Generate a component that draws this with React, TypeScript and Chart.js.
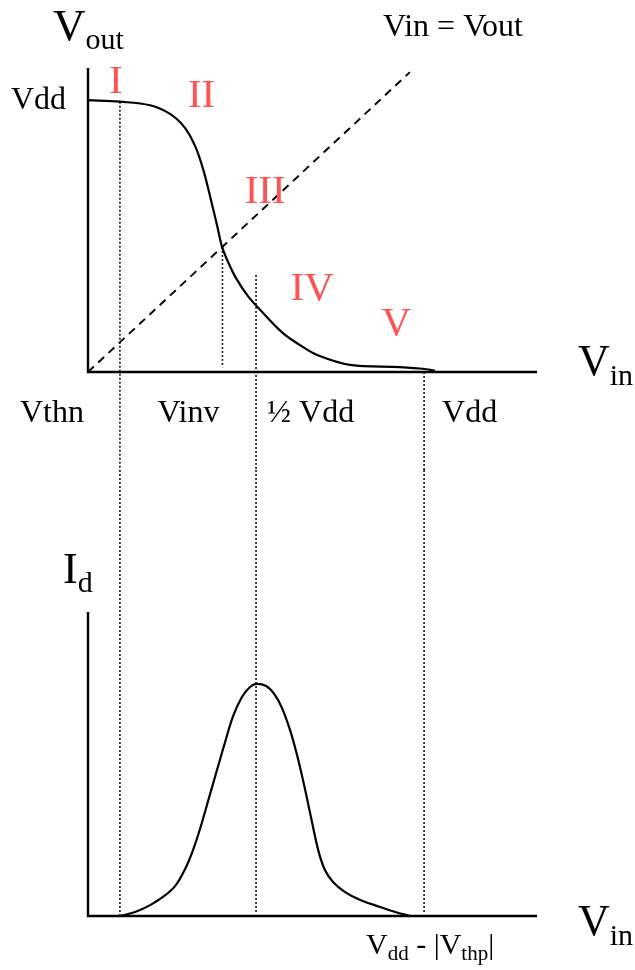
import React, { useEffect, useRef } from 'react';
import { Chart, registerables } from 'chart.js';

Chart.register(...registerables);

// Inverter voltage transfer characteristic (Vdd normalised to 1)
const vinTransfer = [0, 0.095, 0.185, 0.244, 0.289, 0.321, 0.345, 0.366, 0.384, 0.399, 0.417, 0.44, 0.476, 0.521, 0.58, 0.631, 0.682, 0.78, 0.929, 1.003, 1.033];
const voutTransfer = [1.0, 0.994, 0.981, 0.949, 0.897, 0.824, 0.735, 0.632, 0.54, 0.46, 0.404, 0.346, 0.279, 0.217, 0.143, 0.099, 0.0625, 0.026, 0.018, 0.011, 0.004];

// Vin = Vout reference line
const unityVin = [0, 0.958];
const unityVout = [0, 1.103];

// Drain current through the inverter (peak normalised to 1)
const vinCurrent = [0.095, 0.14, 0.185, 0.223, 0.259, 0.289, 0.3125, 0.336, 0.36, 0.384, 0.408, 0.432, 0.458, 0.482, 0.5, 0.53, 0.554, 0.577, 0.601, 0.622, 0.643, 0.664, 0.685, 0.705, 0.729, 0.765, 0.81, 0.869, 0.914, 0.958];
const idCurrent = [0, 0.017, 0.047, 0.082, 0.129, 0.203, 0.284, 0.388, 0.509, 0.63, 0.75, 0.862, 0.944, 0.987, 1.0, 0.991, 0.957, 0.897, 0.802, 0.694, 0.565, 0.422, 0.284, 0.198, 0.147, 0.103, 0.069, 0.039, 0.017, 0];

// Key input voltages
const VTHN = 0.095;
const VINV = 0.4;
const VDD = 1.0;
const xTickValues = [VTHN, VINV, VDD / 2, VDD];
const xTickLabels = ['Vthn', 'Vinv', '½ Vdd', 'Vdd'];

// Operating regions
const regionNames = ['I', 'II', 'III', 'IV', 'V'];
const regionVin = [0.083, 0.338, 0.527, 0.667, 0.917];
const regionVout = [1.026, 0.974, 0.621, 0.265, 0.136];

const X_MAX = 1.336;
const TOP_Y_MAX = 1.118;
const BOTTOM_Y_MAX = 1.31;

const SERIF = "'Liberation Serif', 'Times New Roman', Times, serif";
const RED = '#ff5252';

type Part = { text: string; size: number; dy?: number };

function drawParts(ctx: CanvasRenderingContext2D, x: number, y: number, parts: Part[], color = '#000') {
  let cx = x;
  ctx.save();
  ctx.fillStyle = color;
  ctx.textAlign = 'left';
  ctx.textBaseline = 'alphabetic';
  for (const p of parts) {
    ctx.font = `${p.size}px ${SERIF}`;
    ctx.fillText(p.text, cx, y + (p.dy || 0));
    cx += ctx.measureText(p.text).width;
  }
  ctx.restore();
}

function dotted(ctx: CanvasRenderingContext2D, x: number, y1: number, y2: number) {
  ctx.save();
  ctx.strokeStyle = '#111';
  ctx.lineWidth = 1.6;
  ctx.setLineDash([2, 2]);
  ctx.beginPath();
  ctx.moveTo(x, y1);
  ctx.lineTo(x, y2);
  ctx.stroke();
  ctx.restore();
}

function axes(ctx: CanvasRenderingContext2D, area: { left: number; right: number; top: number; bottom: number }) {
  ctx.save();
  ctx.strokeStyle = '#000';
  ctx.lineWidth = 2.4;
  ctx.beginPath();
  ctx.moveTo(area.left, area.top);
  ctx.lineTo(area.left, area.bottom);
  ctx.lineTo(area.right, area.bottom);
  ctx.stroke();
  ctx.restore();
}

const transferDecor = {
  id: 'transferDecor',
  beforeDatasetsDraw(chart: any) {
    const { ctx, chartArea, scales } = chart;
    const x = scales.x;
    const y = scales.y;
    const h = chart.height;
    // guides dropping from the curve / region boundaries
    dotted(ctx, x.getPixelForValue(VTHN), y.getPixelForValue(0.994), h);
    dotted(ctx, x.getPixelForValue(VINV), y.getPixelForValue(0.46), y.getPixelForValue(0.018));
    dotted(ctx, x.getPixelForValue(VDD / 2), y.getPixelForValue(0.357), h);
    dotted(ctx, x.getPixelForValue(VDD), y.getPixelForValue(0), h);
    axes(ctx, chartArea);
  },
  afterDraw(chart: any) {
    const { ctx, chartArea, scales } = chart;
    const x = scales.x;
    const y = scales.y;
    // axis titles
    drawParts(ctx, chartArea.left - 35, chartArea.top - 28, [
      { text: 'V', size: 45 },
      { text: 'out', size: 30, dy: 9 },
    ]);
    drawParts(ctx, chartArea.right + 41, chartArea.bottom + 3, [
      { text: 'V', size: 44 },
      { text: 'in', size: 30, dy: 10 },
    ]);
    drawParts(ctx, 383, 36, [{ text: 'Vin = Vout', size: 32 }]);
    // Vdd level on the output axis
    ctx.save();
    ctx.font = `32px ${SERIF}`;
    ctx.textAlign = 'right';
    ctx.textBaseline = 'alphabetic';
    ctx.fillStyle = '#000';
    ctx.fillText('Vdd', chartArea.left - 22, y.getPixelForValue(VDD) + 9);
    // input voltage labels
    const labelY = chartArea.bottom + 50;
    const anchors: [CanvasTextAlign, number][] = [
      ['center', -68],
      ['center', -34],
      ['left', 11],
      ['left', 18],
    ];
    xTickLabels.forEach((t, i) => {
      const [align, off] = anchors[i];
      ctx.textAlign = align;
      ctx.fillText(t, x.getPixelForValue(xTickValues[i]) + off, labelY);
    });
    // region numerals
    ctx.fillStyle = RED;
    ctx.font = `41px ${SERIF}`;
    ctx.textAlign = 'center';
    regionNames.forEach((r, i) => {
      ctx.fillText(r, x.getPixelForValue(regionVin[i]), y.getPixelForValue(regionVout[i]));
    });
    ctx.restore();
  },
};

const currentDecor = {
  id: 'currentDecor',
  beforeDatasetsDraw(chart: any) {
    const { ctx, chartArea, scales } = chart;
    const x = scales.x;
    const y = scales.y;
    dotted(ctx, x.getPixelForValue(VTHN), 0, y.getPixelForValue(0));
    dotted(ctx, x.getPixelForValue(VDD / 2), 0, y.getPixelForValue(0) - 2);
    dotted(ctx, x.getPixelForValue(VDD), 0, y.getPixelForValue(0) - 2);
    axes(ctx, chartArea);
  },
  afterDraw(chart: any) {
    const { ctx, chartArea } = chart;
    drawParts(ctx, chartArea.left - 25, chartArea.top - 29, [
      { text: 'I', size: 44 },
      { text: 'd', size: 30, dy: 9 },
    ]);
    drawParts(ctx, chartArea.right + 41, chartArea.bottom + 19, [
      { text: 'V', size: 44 },
      { text: 'in', size: 30, dy: 10 },
    ]);
    drawParts(ctx, 366, chartArea.bottom + 38, [
      { text: 'V', size: 30 },
      { text: 'dd', size: 21, dy: 6 },
      { text: ' - |', size: 30 },
      { text: 'V', size: 30 },
      { text: 'thp', size: 21, dy: 6 },
      { text: '|', size: 30 },
    ]);
  },
};

function baseOptions(yMax: number, padding: { left: number; right: number; top: number; bottom: number }) {
  return {
    responsive: false,
    animation: false as const,
    layout: { padding },
    plugins: { legend: { display: false }, tooltip: { enabled: false } },
    elements: { point: { radius: 0 } },
    scales: {
      x: { type: 'linear' as const, min: 0, max: X_MAX, display: false },
      y: { type: 'linear' as const, min: 0, max: yMax, display: false },
    },
  };
}

export default function App() {
  const topRef = useRef<HTMLCanvasElement>(null);
  const bottomRef = useRef<HTMLCanvasElement>(null);

  useEffect(() => {
    const transfer = new Chart(topRef.current as HTMLCanvasElement, {
      type: 'line',
      data: {
        datasets: [
          {
            data: vinTransfer.map((v, i) => ({ x: v, y: voutTransfer[i] })),
            borderColor: '#000',
            borderWidth: 2.2,
            tension: 0.35,
            fill: false,
          },
          {
            data: unityVin.map((v, i) => ({ x: v, y: unityVout[i] })),
            borderColor: '#000',
            borderWidth: 1.9,
            borderDash: [8, 6],
            fill: false,
          },
        ],
      },
      options: baseOptions(TOP_Y_MAX, { left: 88, right: 98, top: 68, bottom: 98 }) as any,
      plugins: [transferDecor],
    });

    const current = new Chart(bottomRef.current as HTMLCanvasElement, {
      type: 'line',
      data: {
        datasets: [
          {
            data: vinCurrent.map((v, i) => ({ x: v, y: idCurrent[i] })),
            borderColor: '#000',
            borderWidth: 2.2,
            tension: 0.35,
            fill: false,
          },
        ],
      },
      options: baseOptions(BOTTOM_Y_MAX, { left: 88, right: 98, top: 142, bottom: 54 }) as any,
      plugins: [currentDecor],
    });

    return () => {
      transfer.destroy();
      current.destroy();
    };
  }, []);

  return (
    <div style={{ position: 'absolute', left: 0, top: 0, width: 635, height: 970, background: '#fff' }}>
      <canvas ref={topRef} width={635} height={470} style={{ display: 'block' }} />
      <canvas ref={bottomRef} width={635} height={500} style={{ display: 'block' }} />
    </div>
  );
}
